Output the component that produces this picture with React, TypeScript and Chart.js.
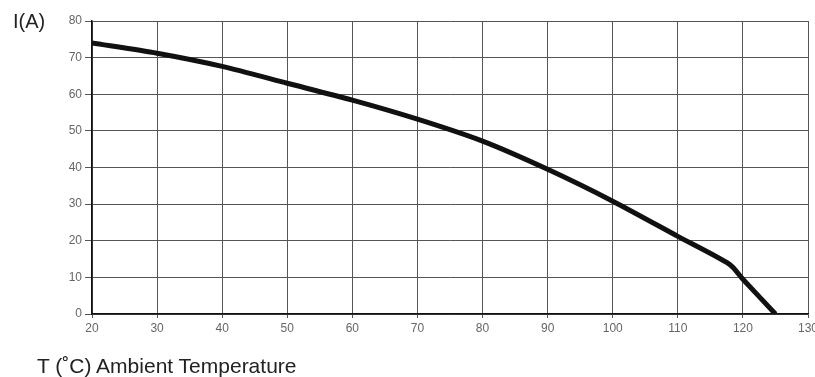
import React, { useEffect, useRef } from "react";
import { Chart, registerables } from "chart.js";

Chart.register(...registerables);

// Data
const temperatures = [20, 30, 40, 50, 60, 70, 80, 90, 100, 110, 118, 120, 125];
const currents = [74, 71.2, 67.6, 63, 58.4, 53.2, 47.2, 39.5, 30.8, 21.2, 13.5, 9.5, 0];
const xMin = 20;
const xMax = 130;
const xStep = 10;
const yMin = 0;
const yMax = 80;
const yStep = 10;
const yAxisTitle = "I(A)";
const xAxisTitle = "T (˚C) Ambient Temperature";

const FONT = "'Liberation Sans', Arial, Helvetica, sans-serif";

export default function App() {
  const canvasRef = useRef<HTMLCanvasElement | null>(null);

  useEffect(() => {
    const canvas = canvasRef.current;
    if (!canvas) return;
    const points = temperatures.map((t, i) => ({ x: t, y: currents[i] }));
    const chart = new Chart(canvas, {
      type: "line",
      data: {
        datasets: [
          {
            data: points,
            borderColor: "#111111",
            borderWidth: 5,
            pointRadius: 0,
            tension: 0.25,
            borderJoinStyle: "round",
            fill: false,
          },
        ],
      },
      options: {
        responsive: false,
        animation: false,
        devicePixelRatio: 1,
        layout: { padding: { top: 21, right: 7, bottom: 0, left: 0 } },
        plugins: { legend: { display: false }, tooltip: { enabled: false } },
        scales: {
          x: {
            type: "linear",
            min: xMin,
            max: xMax,
            ticks: {
              stepSize: xStep,
              color: "#666666",
              font: { family: FONT, size: 12 },
              padding: 3,
              maxRotation: 0,
            },
            grid: { color: "#555555", lineWidth: 1, tickLength: 4, tickColor: "#555555" },
            border: { color: "#111111", width: 1.5 },
            afterFit: (s: any) => {
              s.height = 63;
              s.paddingLeft = 0;
              s.paddingRight = 0;
            },
          },
          y: {
            type: "linear",
            min: yMin,
            max: yMax,
            ticks: {
              stepSize: yStep,
              color: "#666666",
              font: { family: FONT, size: 12 },
              padding: 3,
            },
            grid: { color: "#555555", lineWidth: 1, tickLength: 7, tickColor: "#555555" },
            border: { color: "#111111", width: 1.5 },
            afterFit: (s: any) => {
              s.width = 92;
              s.paddingTop = 0;
              s.paddingBottom = 0;
            },
          },
        },
      },
    });
    return () => chart.destroy();
  }, []);

  return (
    <div style={{ position: "fixed", left: 0, top: 0, width: 815, height: 377, background: "#ffffff" }}>
      <canvas ref={canvasRef} width={815} height={377} style={{ position: "absolute", left: 0, top: 0 }} />
      <div
        style={{
          position: "absolute",
          left: 13,
          top: 11,
          fontFamily: FONT,
          fontSize: 20,
          lineHeight: "20px",
          color: "#222222",
          whiteSpace: "nowrap",
        }}
      >
        {yAxisTitle}
      </div>
      <div
        style={{
          position: "absolute",
          left: 37,
          top: 355,
          fontFamily: FONT,
          fontSize: 21,
          lineHeight: "21px",
          color: "#222222",
          whiteSpace: "nowrap",
        }}
      >
        {xAxisTitle}
      </div>
    </div>
  );
}
